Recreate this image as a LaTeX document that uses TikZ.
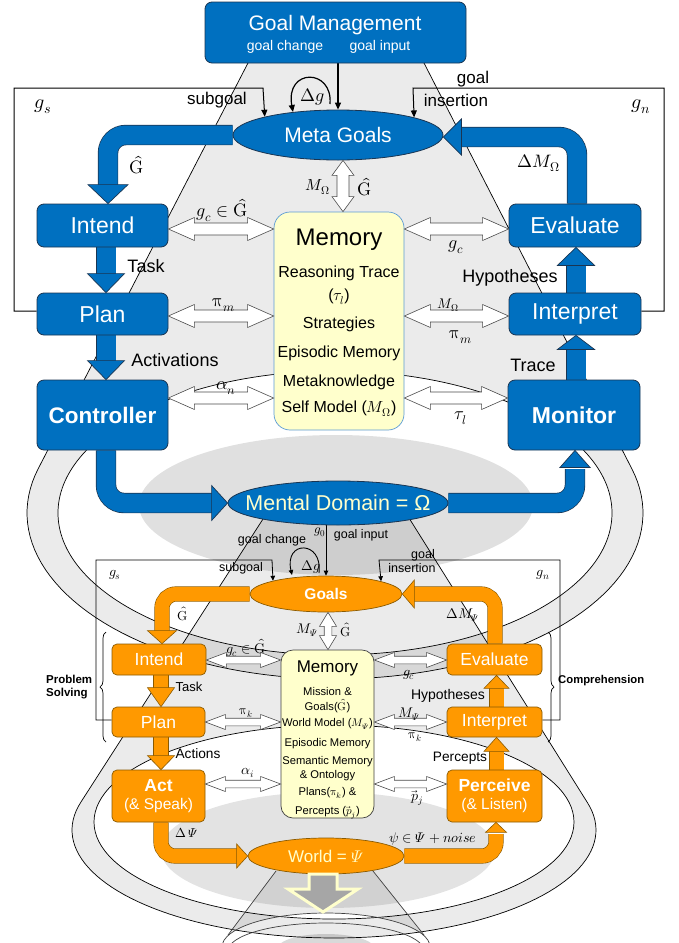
\documentclass[tikz,border=0pt]{standalone}
\usepackage{unicode-math}
\setmainfont{Liberation Sans}
\setmathfont{Latin Modern Math}
\usetikzlibrary{shapes.geometric,calc,decorations.pathreplacing,arrows.meta}
\definecolor{mblue}{HTML}{0070C0}
\definecolor{mnavy}{HTML}{1A3552}
\definecolor{morange}{HTML}{FF9900}
\definecolor{mbrown}{HTML}{8A5A00}
\definecolor{pale}{HTML}{FFFFCC}
\definecolor{memline}{HTML}{5B9BD5}
\pgfdeclarelayer{back}\pgfdeclarelayer{mid}\pgfsetlayers{back,mid,main}
\newcommand\fs[1]{\fontsize{#1}{#1}\selectfont}
\newcommand\headD[4]{\filldraw[#1] (#2) -- ++(-#3,-#4) -- ++(2*#3,0) -- cycle;}
\newcommand\headU[4]{\filldraw[#1] (#2) -- ++(-#3,#4) -- ++(2*#3,0) -- cycle;}
\newcommand\headR[4]{\filldraw[#1] (#2) -- ++(-#4,-#3) -- ++(0,2*#3) -- cycle;}
\newcommand\headL[4]{\filldraw[#1] (#2) -- ++(#4,-#3) -- ++(0,2*#3) -- cycle;}
\newcommand\hdarrow[6]{%
  \coordinate (ha) at (#1); \coordinate (hb) at (#2);
  \filldraw[#6] (ha) -- ++(#3,-#4) -- ++(0,#4-#5) -- ($(hb)+(-#3,-#5)$) -- ++(0,#5-#4) -- (hb) -- ++(-#3,#4) -- ++(0,#5-#4) -- ($(ha)+(#3,#5)$) -- ++(0,#4-#5) -- cycle;}
\newcommand\vdarrow[6]{%
  \coordinate (ha) at (#1); \coordinate (hb) at (#2);
  \filldraw[#6] (ha) -- ++(-#4,#3) -- ++(#4-#5,0) -- ($(hb)+(-#5,-#3)$) -- ++(#5-#4,0) -- (hb) -- ++(#4,-#3) -- ++(#5-#4,0) -- ($(ha)+(#5,#3)$) -- ++(#4-#5,0) -- cycle;}
\newcommand\Gh{\hat{\symup{G}}}
\begin{document}
\begin{tikzpicture}[x=1pt,y=-1pt,
  ubox/.style={draw=mnavy, line width=0.8pt, fill=mblue, rounded corners=7pt, text=white, inner sep=0pt, font=\fs{23}},
  lbox/.style={draw=mbrown, line width=0.7pt, fill=morange, rounded corners=5pt, text=white, inner sep=0pt, font=\fs{17.5}},
  uell/.style={ellipse, draw=mnavy, line width=0.8pt, fill=mblue, inner sep=0pt},
  lell/.style={ellipse, draw=mbrown, line width=0.7pt, fill=morange, inner sep=0pt},
  lab/.style={inner sep=0pt, font=\fs{18}},
  slab/.style={inner sep=0pt, font=\fs{12.5}},
  ring/.style={draw=black, line width=0.7pt},
  gfill/.style={fill=black, fill opacity=0.08},
  bandB/.style={draw=mnavy, line width=0.7pt, double=mblue, double distance=19pt, rounded corners=18pt},
  bandO/.style={draw=mbrown, line width=0.6pt, double=morange, double distance=14pt, rounded corners=14pt},
  headB/.style={fill=mblue, draw=mnavy, line width=0.7pt},
  headO/.style={fill=morange, draw=mbrown, line width=0.6pt},
  hol/.style={fill=white, draw=black!70, line width=0.6pt},
  frame/.style={draw=black, line width=1pt},
  thintip/.style={-{Triangle[length=7pt,width=6pt]}},
]
\useasboundingbox (0,0) rectangle (678,943);

% ---------------- nodes ----------------
\node[ubox, minimum width=261pt, minimum height=61pt] (gm) at (335.5,32.5) {};
\node[lab, text=white, font=\fs{21}] (gmT) at (335,25) {Goal Management};
\node[lab, text=white, font=\fs{14}] (gmC) at (285,47) {goal change};
\node[lab, text=white, font=\fs{14}] (gmI) at (380,47) {goal input};
\node[uell, minimum width=210pt, minimum height=50pt] (metagoals) at (338,135) {};
\node[lab, text=white, font=\fs{21}] (metagoalsT) at (338,135) {Meta Goals};
\node[ubox, minimum width=131pt, minimum height=43pt] (intend1) at (102.5,225.5) {Intend};
\node[ubox, minimum width=131pt, minimum height=42pt] (plan1) at (102.5,314) {Plan};
\node[ubox, minimum width=131pt, minimum height=70pt, font=\fs{22.5}\bfseries] (ctrl) at (102.5,415) {Controller};
\node[ubox, minimum width=132pt, minimum height=43pt] (eval1) at (575,225.5) {Evaluate};
\node[ubox, minimum width=132pt, minimum height=42pt] (interp1) at (575,314) {Interpret};
\node[ubox, minimum width=132pt, minimum height=70pt, font=\fs{23}\bfseries] (mon) at (574,415) {Monitor};
\node[draw=memline, line width=0.7pt, fill=pale, rounded corners=16pt, minimum width=130pt, minimum height=218pt, inner sep=0pt] (mem1) at (339,321) {};
\node[lab, font=\fs{24}] (M1) at (339,240) {Memory};
\node[lab, font=\fs{16}] (M2) at (339,273) {Reasoning Trace};
\node[lab, font=\fs{16}] (M3) at (339,297) {($\tau_l$)};
\node[lab, font=\fs{16}] (M4) at (339,324) {Strategies};
\node[lab, font=\fs{16}] (M5) at (339,353) {Episodic Memory};
\node[lab, font=\fs{16}] (M6) at (339,382) {Metaknowledge};
\node[lab, font=\fs{16}] (M7) at (339,409) {Self Model ($M_\Omega$)};
\node[uell, minimum width=220pt, minimum height=44pt] (mental) at (338,503) {};
\node[lab, text=pale, font=\fs{21.5}] (mentalT) at (338,503) {Mental Domain = Ω};

\node[lell, minimum width=152pt, minimum height=36pt] (goals) at (326,594) {};
\node[lab, font=\fs{15.5}\bfseries, text=white] (goalsT) at (326,594) {Goals};
\node[lbox, minimum width=94pt, minimum height=31pt] (intend2) at (159,659.5) {Intend};
\node[lbox, minimum width=93pt, minimum height=30pt] (plan2) at (158.5,722) {Plan};
\node[lbox, minimum width=93pt, minimum height=52pt, align=center] (act) at (158.5,796) {\textbf{Act}\\[1pt]{\fs{15.5}(\& Speak)}};
\node[lbox, minimum width=95pt, minimum height=31pt] (eval2) at (494.5,659.5) {Evaluate};
\node[lbox, minimum width=95pt, minimum height=30pt] (interp2) at (494.5,722) {Interpret};
\node[lbox, minimum width=95pt, minimum height=52pt, align=center] (perc) at (494.5,796) {\textbf{Perceive}\\[1pt]{\fs{15.5}(\& Listen)}};
\node[draw=black!75, line width=0.7pt, fill=pale, rounded corners=12pt, minimum width=93pt, minimum height=168pt, inner sep=0pt] (mem2) at (327.5,734) {};
\node[lab, font=\fs{17}] (N1) at (327.5,668) {Memory};
\node[lab, font=\fs{11.2}] (N2) at (327.5,691) {Mission \&};
\node[lab, font=\fs{11.2}] (N3) at (327.5,706) {Goals($\Gh$)};
\node[lab, font=\fs{11.2}] (N4) at (327.5,724) {World Model ($M_{\symit{\Psi}}$)};
\node[lab, font=\fs{11.2}] (N5) at (327.5,744) {Episodic Memory};
\node[lab, font=\fs{11.2}] (N6) at (327.5,762) {Semantic Memory};
\node[lab, font=\fs{11.2}] (N7) at (327.5,776) {\& Ontology};
\node[lab, font=\fs{11.2}] (N8) at (327.5,793) {Plans($\symup{\pi}_k$) \&};
\node[lab, font=\fs{11.2}] (N9) at (327.5,813) {Percepts ($\vec{p}_j$)};
\node[lell, minimum width=156pt, minimum height=36pt] (world) at (326,856) {};
\node[lab, text=pale, font=\fs{17}] (worldT) at (326,856) {World = $\symit{\Psi}$};

% ---------------- background shapes ----------------
\begin{pgfonlayer}{back}
\fill[white] (0,0) rectangle (678,943);
% upper cone and ring
\fill[gfill, even odd rule] (248,63) -- plot[domain=195.57:-15.57, samples=90] ({335+308*cos(\x)},{513+166*sin(\x)}) -- (424,63) -- cycle
      (335,513) ellipse [x radius=277pt, y radius=142pt];
\fill[fill=black, fill opacity=0.12] (336,505) ellipse [x radius=197pt, y radius=70pt];
% lower cone and ring
\fill[gfill, even odd rule] (263,519) -- plot[domain=195:-14.6, samples=90] ({334+262*cos(\x)},{830+108*sin(\x)}) -- (410,519.6) -- cycle
      (334,822) ellipse [x radius=240pt, y radius=97pt];
\fill[fill=black, fill opacity=0.11] (328,850) ellipse [x radius=167pt, y radius=58pt];
% funnel below the world
\fill[gfill] (276,871) -- plot[domain=200:340, samples=40] ({326+104*cos(\x)},{947+34*sin(\x)}) -- (373,871) -- cycle;
\fill[fill=black, fill opacity=0.15] (326,948) ellipse [x radius=48pt, y radius=14pt];
% outlines
\draw[ring] (248,63) -- plot[domain=195.57:-15.57, samples=90] ({335+308*cos(\x)},{513+166*sin(\x)}) -- (424,63);
\draw[ring] (335,513) ellipse [x radius=277pt, y radius=142pt];
\draw[ring] (263,519) -- plot[domain=195:-14.6, samples=90] ({334+262*cos(\x)},{830+108*sin(\x)}) -- (410,519.6);
\draw[ring] (334,822) ellipse [x radius=240pt, y radius=97pt];
\draw[ring, draw=black!75] (276,871) -- (228,935) (373,871) -- (424,935);
\draw[ring, draw=black!75] (326,947) ellipse [x radius=104pt, y radius=34pt];
\draw[ring, draw=black!75] (326,951) ellipse [x radius=98pt, y radius=28pt];
\end{pgfonlayer}

% ---------------- connectors ----------------
\begin{pgfonlayer}{mid}
% upper frames
\coordinate (sgA) at (metagoals.166.9);
\coordinate (gnA) at (metagoals.13.1);
\draw[frame, thintip] (plan1.west |- 0,311) -- (14,311) -- (14,88) -- (263,88) -- (sgA);
\draw[frame, thintip] (interp1.east |- 0,311) -- (664,311) -- (664,88) -- (413,88) -- (gnA);
\draw[frame, line width=1.2pt, thintip] (gm.south -| metagoals.north) -- (metagoals.north);
\coordinate (dgS) at (330,104);
\coordinate (dgE) at (293,112);
\draw[frame, line width=1.2pt, thintip] (dgS) .. controls (333,68) and (285,68) .. (dgE);
% lower frames
\coordinate (sgB) at (goals.166.8);
\coordinate (gnB) at (goals.13.7);
\draw[frame, line width=0.8pt, -{Triangle[length=5pt,width=4.5pt]}] (plan2.west |- 0,720) -- (96,720) -- (96,560) -- (272,560) -- (sgB);
\draw[frame, line width=0.8pt, -{Triangle[length=5pt,width=4.5pt]}] (interp2.east |- 0,720) -- (560,720) -- (560,560) -- (379,560) -- (gnB);
\draw[frame, line width=0.9pt, -{Triangle[length=5pt,width=4.5pt]}] (mental.south -| goals.north) -- (goals.north);
\coordinate (dgS2) at (319,573);
\coordinate (dgE2) at (292,575);
\draw[frame, line width=0.9pt, -{Triangle[length=5pt,width=4.5pt]}] (dgS2) .. controls (323,540) and (284,540) .. (dgE2);
% braces
\draw[line width=0.7pt, decorate, decoration={brace, amplitude=6pt}] (106,742) -- (106,632);
\draw[line width=0.7pt, decorate, decoration={brace, amplitude=6pt}] (548,632) -- (548,742);
% blue bands
\draw[bandB] (metagoals.west) -- (metagoals.west -| 108,0) -- (108,187);
\draw[bandB] (eval1.north -| 577,0) -- (577,137) -- (459,137);
\draw[bandB] (intend1.south -| 106,0) -- (106,276);
\draw[bandB] (plan1.south -| 106,0) -- (106,363);
\draw[bandB] (interp1.north -| 576,0) -- (576,263);
\draw[bandB] (mon.north -| 576,0) -- (576,347);
\draw[bandB] (ctrl.south -| 106,0) -- (106,503) -- (214,503);
\draw[bandB] (mental.east) -- (575,503) -- (575,469);
% orange bands
\draw[bandO] (goals.west) -- (goals.west -| 162,0) -- (162,633);
\draw[bandO] (eval2.north -| 495,0) -- (495,594) -- (412,594);
\draw[bandO] (intend2.south -| 161,0) -- (161,690);
\draw[bandO] (plan2.south -| 161,0) -- (161,758);
\draw[bandO] (interp2.north -| 496.5,0) -- (496.5,686);
\draw[bandO] (perc.north -| 496.5,0) -- (496.5,749);
\draw[bandO] (act.south -| 161,0) -- (161,856) -- (239,856);
\draw[bandO] (world.east) -- (496,856) -- (496,834);
\end{pgfonlayer}

% arrow heads
\headD{headB}{intend1.north -| 108,0}{20}{19}
\headL{headB}{metagoals.east |- 0,137}{18}{18}
\headD{headB}{plan1.north -| 106,0}{18.5}{19}
\headD{headB}{ctrl.north -| 106,0}{18.5}{19}
\headU{headB}{eval1.south -| 576,0}{18.5}{18}
\headU{headB}{interp1.south -| 576,0}{18.5}{14}
\headR{headB}{mental.west}{17.5}{16}
\headU{headB}{mon.south -| 575,0}{15}{17}
\headD{headO}{intend2.north -| 162,0}{14.5}{13}
\headL{headO}{goals.east}{14}{12}
\headD{headO}{plan2.north -| 161,0}{13.5}{19}
\headD{headO}{act.north -| 161,0}{13.5}{14}
\headU{headO}{eval2.south -| 496.5,0}{12.5}{13}
\headU{headO}{interp2.south -| 496.5,0}{12.5}{14}
\headR{headO}{world.west}{12}{11}
\headU{headO}{perc.south -| 496,0}{10.5}{10}

% hollow double arrows
\hdarrow{intend1.east |- 0,229}{mem1.west |- 0,229}{26}{11.5}{6}{hol}
\hdarrow{mem1.east |- 0,229}{eval1.west |- 0,229}{26}{11.5}{6}{hol}
\hdarrow{plan1.east |- 0,316}{mem1.west |- 0,316}{26}{11.5}{6}{hol}
\hdarrow{mem1.east |- 0,316}{interp1.west |- 0,316}{26}{11.5}{6}{hol}
\hdarrow{ctrl.east |- 0,398}{mem1.west |- 0,398}{26}{11.5}{6}{hol}
\hdarrow{mem1.east |- 0,398}{mon.west |- 0,398}{26}{11.5}{6}{hol}
\vdarrow{metagoals.south -| 343,0}{mem1.north -| 343,0}{15}{11}{6}{hol}
\hdarrow{intend2.east |- 0,660}{mem2.west |- 0,660}{20}{7.5}{3.8}{hol}
\hdarrow{mem2.east |- 0,660}{eval2.west |- 0,660}{20}{7.5}{3.8}{hol}
\hdarrow{plan2.east |- 0,722}{mem2.west |- 0,722}{20}{7.5}{3.8}{hol}
\hdarrow{mem2.east |- 0,722}{interp2.west |- 0,722}{20}{7.5}{3.8}{hol}
\hdarrow{act.east |- 0,784}{mem2.west |- 0,784}{20}{7.5}{3.8}{hol}
\hdarrow{mem2.east |- 0,784}{perc.west |- 0,784}{20}{7.5}{3.8}{hol}
\vdarrow{goals.south -| 328,0}{mem2.north -| 328,0}{14}{8.5}{3.8}{hol}

% big hollow arrow below the world
\filldraw[fill=black!35, draw=pale, line width=3pt] (309,874) -- (337,874) -- (337,889) -- (358,889) -- (323,912) -- (288,889) -- (309,889) -- cycle;

% ---------------- labels (upper) ----------------
\node[lab, font=\fs{17}] (L1) at (217,100) {subgoal};
\node[lab, font=\fs{17}] (L2) at (473,79) {goal};
\node[lab, font=\fs{17}] (L3) at (456,100) {insertion};
\node[lab] (L4) at (313,97) {$\Delta g$};
\node[lab, font=\fs{20}] (L5) at (43,107) {$g_s$};
\node[lab, font=\fs{20}] (L6) at (641,107) {$g_n$};
\node[lab] (L7) at (137,165) {$\Gh$};
\node[lab] (L8) at (539,163) {$\Delta M_\Omega$};
\node[lab, font=\fs{16}, anchor=east] (L9) at (330,187) {$M_\Omega$};
\node[lab, anchor=west] (L10) at (357,187) {$\Gh$};
\node[lab] (L11) at (222,210) {$g_c \in \Gh$};
\node[lab] (L12) at (456,247) {$g_c$};
\node[lab] (L13) at (146,266) {Task};
\node[lab] (L14) at (510,278) {Hypotheses};
\node[lab] (L15) at (224,305) {$\symup{\pi}_m$};
\node[lab, font=\fs{14}] (L16) at (448,305) {$M_\Omega$};
\node[lab] (L17) at (461,337) {$\symup{\pi}_m$};
\node[lab] (L18) at (175,360) {Activations};
\node[lab] (L19) at (533,365) {Trace};
\node[lab] (L20) at (226,388) {$\alpha_n$};
\node[lab] (L21) at (461,418) {$\tau_l$};
% ---------------- labels (lower) ----------------
\node[slab] (K1) at (272,540) {goal change};
\node[slab, font=\fs{13}] (K2) at (320,532) {$g_0$};
\node[slab] (K3) at (361,535) {goal input};
\node[slab] (K4) at (241,568) {subgoal};
\node[slab, font=\fs{14}] (K5) at (311,567) {$\Delta g$};
\node[slab] (K6) at (423,555) {goal};
\node[slab] (K7) at (412,568) {insertion};
\node[slab, font=\fs{14}] (K8) at (115,575) {$g_s$};
\node[slab, font=\fs{14}] (K9) at (543,575) {$g_n$};
\node[slab, font=\fs{13}] (K10) at (183,614) {$\Gh$};
\node[slab, font=\fs{14}] (K11) at (463,615) {$\Delta M_{\symit{\Psi}}$};
\node[slab, font=\fs{14}, anchor=east] (K12) at (318,630) {$M_{\symit{\Psi}}$};
\node[slab, font=\fs{13}, anchor=west] (K13) at (340,630) {$\Gh$};
\node[slab, font=\fs{14}] (K14) at (246,648) {$g_c \in \Gh$};
\node[slab, font=\fs{14}] (K15) at (409,675) {$g_c$};
\node[slab, font=\fs{13}] (K16) at (189,687) {Task};
\node[slab, font=\fs{14}] (K17) at (448,696) {Hypotheses};
\node[slab, font=\fs{13}] (K18) at (246,713) {$\symup{\pi}_k$};
\node[slab, font=\fs{14}] (K19) at (409,714) {$M_{\symit{\Psi}}$};
\node[slab, font=\fs{13}] (K20) at (415,737) {$\symup{\pi}_k$};
\node[slab, font=\fs{13.7}] (K21) at (198,754) {Actions};
\node[slab, font=\fs{13.7}] (K22) at (460,758) {Percepts};
\node[slab, font=\fs{14}] (K23) at (248,773) {$\alpha_i$};
\node[slab, font=\fs{14}] (K24) at (417,798) {$\vec{p}_j$};
\node[slab, font=\fs{13}] (K25) at (187,833) {$\Delta\,\symit{\Psi}$};
\node[slab, font=\fs{14}] (K26) at (433,839) {$\psi \in \symit{\Psi} + noise$};
\node[inner sep=0pt, font=\fs{11.5}\bfseries, align=left, anchor=west] (ps) at (46,687) {Problem\\[1.5pt]Solving};
\node[inner sep=0pt, font=\fs{11.3}\bfseries, anchor=west] (cp) at (558,681) {Comprehension};
\end{tikzpicture}
\end{document}
